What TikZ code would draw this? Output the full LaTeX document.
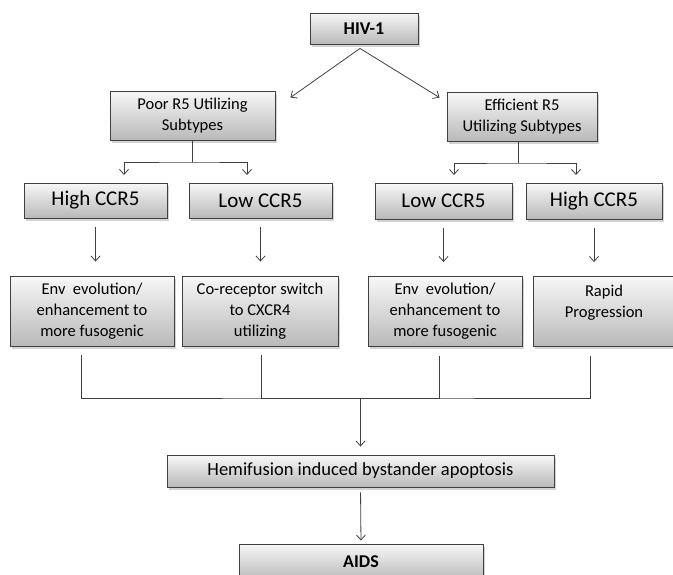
\documentclass[tikz,border=0pt]{standalone}
\usepackage{fontspec}
\setmainfont{Carlito}
\usetikzlibrary{arrows.meta,shadows}
\begin{document}
\begin{tikzpicture}[x=1pt,y=-1pt,
    >={Straight Barb[length=5pt,width=9pt]},
    box/.style={draw=black!75,line width=0.9pt,top color=gray!6,bottom color=gray!55,
      drop shadow={shadow xshift=1.5pt,shadow yshift=-2.5pt,opacity=0.35},
      align=center,inner sep=0pt},
    line/.style={draw=black!75,line width=0.8pt}]
    \def\small{\fontsize{16.5}{21}\selectfont}
    \def\big{\fontsize{21}{24}\selectfont}
    \useasboundingbox (0,0) rectangle (673,574);
    % top
    \node[box,minimum width=108pt,minimum height=31pt,font=\fontsize{18}{22}\selectfont\bfseries] (hiv) at (364,28.5) {HIV-1};
    \node[box,minimum width=165pt,minimum height=49pt,font=\small] (poor) at (192.5,115.5) {Poor R5 Utilizing\\Subtypes};
    \node[box,minimum width=150pt,minimum height=49pt,font=\small] (eff) at (522,116.5) {Efficient R5\\Utilizing Subtypes};
    % CCR5 level
    \node[box,minimum width=143pt,minimum height=35pt,font=\big] (hi1) at (95.5,200.5) {High CCR5};
    \node[box,minimum width=143pt,minimum height=35pt,font=\big] (lo1) at (260.5,200.5) {Low CCR5};
    \node[box,minimum width=137pt,minimum height=36pt,font=\big] (lo2) at (443.5,201) {Low CCR5};
    \node[box,minimum width=136pt,minimum height=36pt,font=\big] (hi2) at (594,201) {High CCR5};
    % outcome
    \node[box,minimum width=164pt,minimum height=70pt,font=\small] (env1) at (92,311) {Env~ evolution/\\enhancement to\\more fusogenic};
    \node[box,minimum width=156pt,minimum height=70pt,font=\small] (co) at (260,311) {Co-receptor switch\\to CXCR4\\utilizing};
    \node[box,minimum width=154pt,minimum height=70pt,font=\small] (env2) at (445,311.5) {Env~ evolution/\\enhancement to\\more fusogenic};
    \node[box,minimum width=142pt,minimum height=70pt,font=\small] (rapid) at (604,311.5) {Rapid\\Progression\\~};
    \node[box,minimum width=387pt,minimum height=32pt,font=\fontsize{18.5}{20}\selectfont] (hemi) at (360.5,471) {Hemifusion induced bystander apoptosis};
    \node[box,minimum width=244pt,minimum height=36pt,font=\fontsize{18}{22}\selectfont\bfseries] (aids) at (361,562) {AIDS};
    % connectors
    \draw[line,->] ([xshift=-4pt,yshift=-4pt]hiv.south) -- ([xshift=15pt,yshift=-7pt]poor.north east);
    \draw[line,->] ([xshift=-4pt,yshift=-4pt]hiv.south) -- ([xshift=-7pt,yshift=-6pt]eff.north west);
    \coordinate (pj) at (192.5,162);
    \coordinate (pl) at (124,175);
    \coordinate (pr) at (247,175);
    \draw[line] (poor.south) -- (pj);
    \draw[line,<->] (pl) |- (pj) -| (pr);
    \coordinate (ej) at (518,163);
    \coordinate (el) at (454,175);
    \coordinate (er) at (576,175);
    \draw[line] (ej |- eff.south) -- (ej);
    \draw[line,<->] (el) |- (ej) -| (er);
    \foreach \a/\b in {hi1/env1,lo1/co,lo2/env2,hi2/rapid}
      \draw[line,->,shorten <=9pt,shorten >=14pt] (\a.south) -- (\a.south |- \b.north);
    \coordinate (bus) at (360.5,398);
    \draw[line] ([xshift=-11pt,yshift=-9pt]env1.south) |- (bus) -| ([xshift=-14pt,yshift=-9pt]rapid.south);
    \draw[line] ([xshift=1pt,yshift=-9pt]co.south) |- (bus);
    \draw[line] ([xshift=-6pt,yshift=-9pt]env2.south) |- (bus);
    \draw[line,->,shorten >=8pt] (bus) -- (hemi.north);
    \draw[line,->,shorten <=5pt,shorten >=3pt] (hemi.south) -- (aids.north);
\end{tikzpicture}
\end{document}
